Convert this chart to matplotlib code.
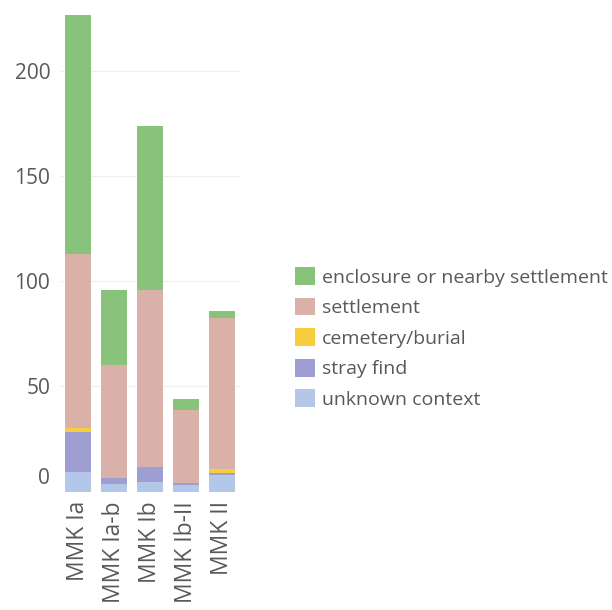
import matplotlib
matplotlib.use("Agg")
import matplotlib.pyplot as plt
import matplotlib.transforms as mtransforms
import numpy as np

categories = ["MMK Ia", "MMK Ia-b", "MMK Ib", "MMK Ib-II", "MMK II"]
unknown_context = [9.5, 3.5, 4.5, 3, 8]
stray_find = [19, 3, 7, 1, 1]
cemetery_burial = [1.5, 0, 0, 0, 1.5]
settlement = [83, 53.5, 84.5, 35, 72]
enclosure = [114, 36, 78, 5, 3.5]

series = [
    ("unknown context", unknown_context, "#b4c7e9"),
    ("stray find", stray_find, "#9f9ed3"),
    ("cemetery/burial", cemetery_burial, "#f6cd3c"),
    ("settlement", settlement, "#dab1a9"),
    ("enclosure or nearby settlement", enclosure, "#88c27b"),
]
yticks = [0, 50, 100, 150, 200]

plt.rcParams['font.family'] = ['Open Sans', 'DejaVu Sans']
text_color = "#595959"

fig = plt.figure(figsize=(6.12, 6.10), dpi=100)
ax = fig.add_axes([60/612, 1-491.5/610, 180/612, (491.5-4)/610])

x = np.arange(len(categories))
bottom = np.zeros(len(categories))
handles = []
for name, vals, col in series:
    v = np.array(vals, dtype=float)
    b = ax.bar(x, v, bottom=bottom, width=0.72, color=col, label=name, zorder=2)
    handles.append(b)
    bottom += v

ax.set_xlim(-0.5, len(categories) - 0.5)
ax.set_ylim(0, 232)
ax.set_yticks(yticks)
ax.set_yticklabels([str(t) for t in yticks])
ax.set_xticks(x)
ax.set_xticklabels(categories, rotation=90)
ax.yaxis.grid(True, color="#f0f0f0", linewidth=1, zorder=0)
ax.set_axisbelow(True)
for s in ax.spines.values():
    s.set_visible(False)
ax.tick_params(axis="both", length=0, colors=text_color)
ax.tick_params(axis="y", labelsize=15, pad=7)
ax.tick_params(axis="x", labelsize=16.5, pad=7)

# zero label is drawn raised above the baseline
offset = mtransforms.ScaledTranslation(0, 0.15, fig.dpi_scale_trans)
lab0 = ax.get_yticklabels()[0]
lab0.set_transform(lab0.get_transform() + offset)

leg = fig.legend(handles[::-1], [s[0] for s in series][::-1],
                 loc="upper left", bbox_to_anchor=(295/612, 1-267/610),
                 frameon=False, fontsize=14, handlelength=1.03, handleheight=1.03,
                 handletextpad=0.37, labelspacing=0.57, borderpad=0, borderaxespad=0)
for t in leg.get_texts():
    t.set_color(text_color)

fig.savefig("out.png", dpi=100)
